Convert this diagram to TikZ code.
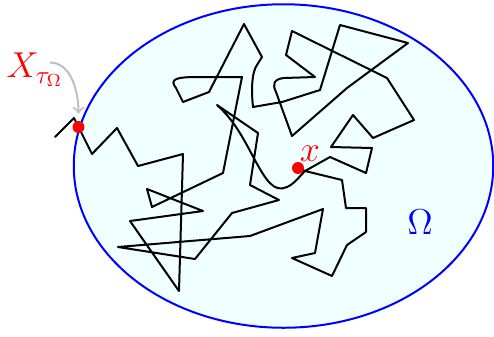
\documentclass[tikz,border=0pt]{standalone}
\usepackage{amsmath}
\usepackage{amssymb}
\usepackage{tikz}

\definecolor{domainfill}{RGB}{240,255,255}

\begin{document}
\begin{tikzpicture}[x=0.4pt, y=-0.4pt,
    walk/.style={black, thick, line join=round, line cap=round},
    exitarrow/.style={->, gray!50, thick, shorten >=5.4pt}]

    % 0. Fix the canvas (coordinates are pixels, y pointing down)
    \useasboundingbox (0,0) rectangle (494,336);

    % 1. Draw the domain Omega
    \draw[blue, thick, fill=domainfill] (283.5,166) ellipse [x radius=83.9pt, y radius=64.7pt];
    \node[blue, font=\Large] (omega) at (420,222) {$\Omega$};

    % 2. Start point and exit point
    \coordinate (start) at (298,168);
    \coordinate (exit) at (78.5,127);

    % 3. Draw the random walk from x until it leaves Omega
    \draw[walk] (start) -- (305,171) -- (342,180) -- (346,208) -- (366,208)
        -- (366,232) -- (347,245) -- (332,276) -- (292,258) -- (315,253)
        -- (323,209) -- (250,236) -- (118,247) -- (195,259) -- (232,213)
        -- (279,200) -- (250,185) -- (258,133) -- (217,105)
        .. controls (236,122) and (245,142) .. (256,162)
        .. controls (266,180) and (274,193) .. (287,187)
        .. controls (294,184) and (299,177) .. (305,171)
        -- (330,157) -- (366,173) -- (372,148) -- (331,147) -- (353,115)
        -- (373,138) -- (414,120) -- (387,78) -- (292,31) -- (286,55)
        -- (315,77) -- (284,78) .. controls (274,79) and (272,84) .. (276,92)
        -- (292,136) -- (347,88) -- (408,43) -- (340,25) -- (320,90)
        -- (282,102) -- (253,107) .. controls (251,88) and (252,72) .. (257,65)
        -- (262,57) -- (244,24) -- (209,92) -- (183,102) -- (176,88)
        .. controls (169,79) and (176,77) .. (198,77) -- (242,77)
        -- (223,173) -- (152,207) -- (147,189) -- (203,211) -- (130,221)
        -- (179,291) -- (183,154) -- (138,166) -- (117,128) -- (92,154)
        -- (74,118) -- (55,137);

    % 4. Draw the two red dots
    \foreach \p in {start, exit} {
        \fill[red] (\p) circle (2.4pt);
    }

    % 5. Labels and the arrow to the exit point
    \node[red, font=\Large] (xlabel) at (310,154) {$x$};
    \node[red, font=\Large] (exitlabel) at (35,70) {$X_{\tau_\Omega}$};
    \draw[exitarrow] ([xshift=-9pt,yshift=3pt]exitlabel.east)
        .. controls +(22,0) and +(0,-34) .. (exit);

\end{tikzpicture}
\end{document}
